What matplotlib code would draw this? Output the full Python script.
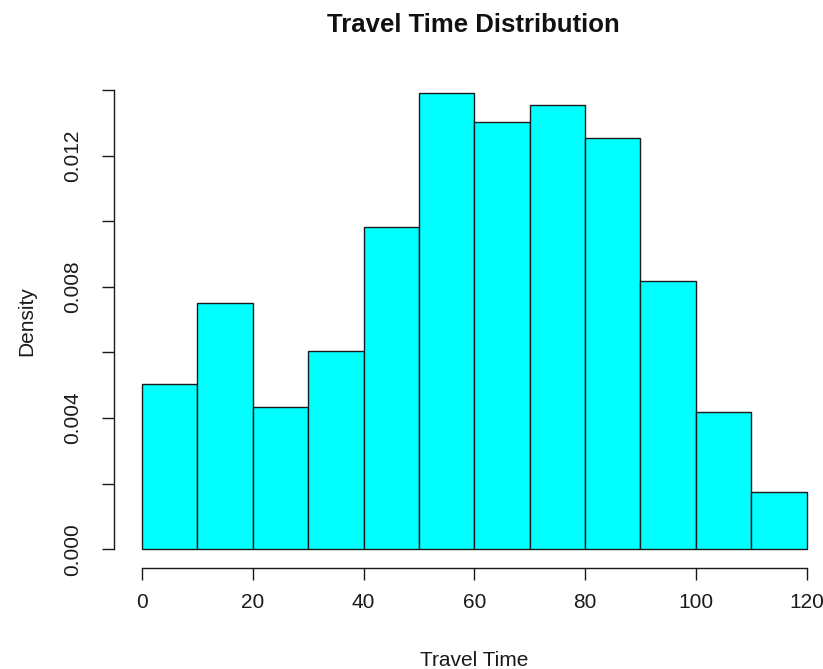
import matplotlib

matplotlib.use("Agg")

import matplotlib.pyplot as plt
import numpy as np

# histogram bins (travel time, minutes) and density heights
bin_edges = [0, 10, 20, 30, 40, 50, 60, 70, 80, 90, 100, 110, 120]
density = [0.00504, 0.00750, 0.00434, 0.00606, 0.00984, 0.01392,
           0.01302, 0.01355, 0.01253, 0.00818, 0.00418, 0.00176]
x_ticks = [0, 20, 40, 60, 80, 100, 120]
y_ticks = [0.000, 0.002, 0.004, 0.006, 0.008, 0.010, 0.012, 0.014]
y_labels = ["0.000", "", "0.004", "", "0.008", "", "0.012", ""]

plt.rcParams["font.family"] = ["Liberation Sans", "DejaVu Sans"]

W, H = 823, 669
fig = plt.figure(figsize=(W / 100, H / 100), dpi=100)

# plot region in pixels (R base graphics style layout)
left_px, right_px, bottom_px, top_px = 114, 823, 567.7, 60
x0_px, px_per_x = 142, 5.5375
y0_px, px_per_y = 549.3, 32800

ax = fig.add_axes([left_px / W, 1 - bottom_px / H,
                   (right_px - left_px) / W, (bottom_px - top_px) / H])

ax.bar(bin_edges[:-1], density, width=np.diff(bin_edges), align="edge",
       color="#00ffff", edgecolor="#1a1a1a", linewidth=1.0)

ax.set_xlim((left_px - x0_px) / px_per_x, (right_px - x0_px) / px_per_x)
ax.set_ylim(-(bottom_px - y0_px) / px_per_y, (y0_px - top_px) / px_per_y)

for side in ["top", "right"]:
    ax.spines[side].set_visible(False)
ax.spines["left"].set_bounds(0, 0.014)
ax.spines["bottom"].set_bounds(0, 120)
for side in ["left", "bottom"]:
    ax.spines[side].set_linewidth(1.0)
    ax.spines[side].set_color("#1a1a1a")

ax.set_xticks(x_ticks)
ax.set_xticklabels([str(t) for t in x_ticks])
ax.set_yticks(y_ticks)
ax.set_yticklabels(y_labels)
ax.tick_params(axis="both", length=8.6, width=1.0, color="#1a1a1a",
               labelsize=15, labelcolor="#1a1a1a")
ax.tick_params(axis="x", pad=9.4)
ax.tick_params(axis="y", pad=14.4, labelrotation=90)
for lbl in ax.get_yticklabels():
    lbl.set_va("center")

fig.text(473.5 / W, 1 - 32.3 / H, "Travel Time Distribution",
         ha="center", va="baseline", fontsize=18.5, fontweight="bold",
         color="#111111")
fig.text(474 / W, 1 - 666 / H, "Travel Time", ha="center", va="baseline",
         fontsize=15, color="#1a1a1a")
fig.text(27 / W, 1 - 321 / H, "Density", ha="center", va="center",
         rotation=90, fontsize=15, color="#1a1a1a")

fig.savefig("out.png", dpi=100)
plt.close(fig)
